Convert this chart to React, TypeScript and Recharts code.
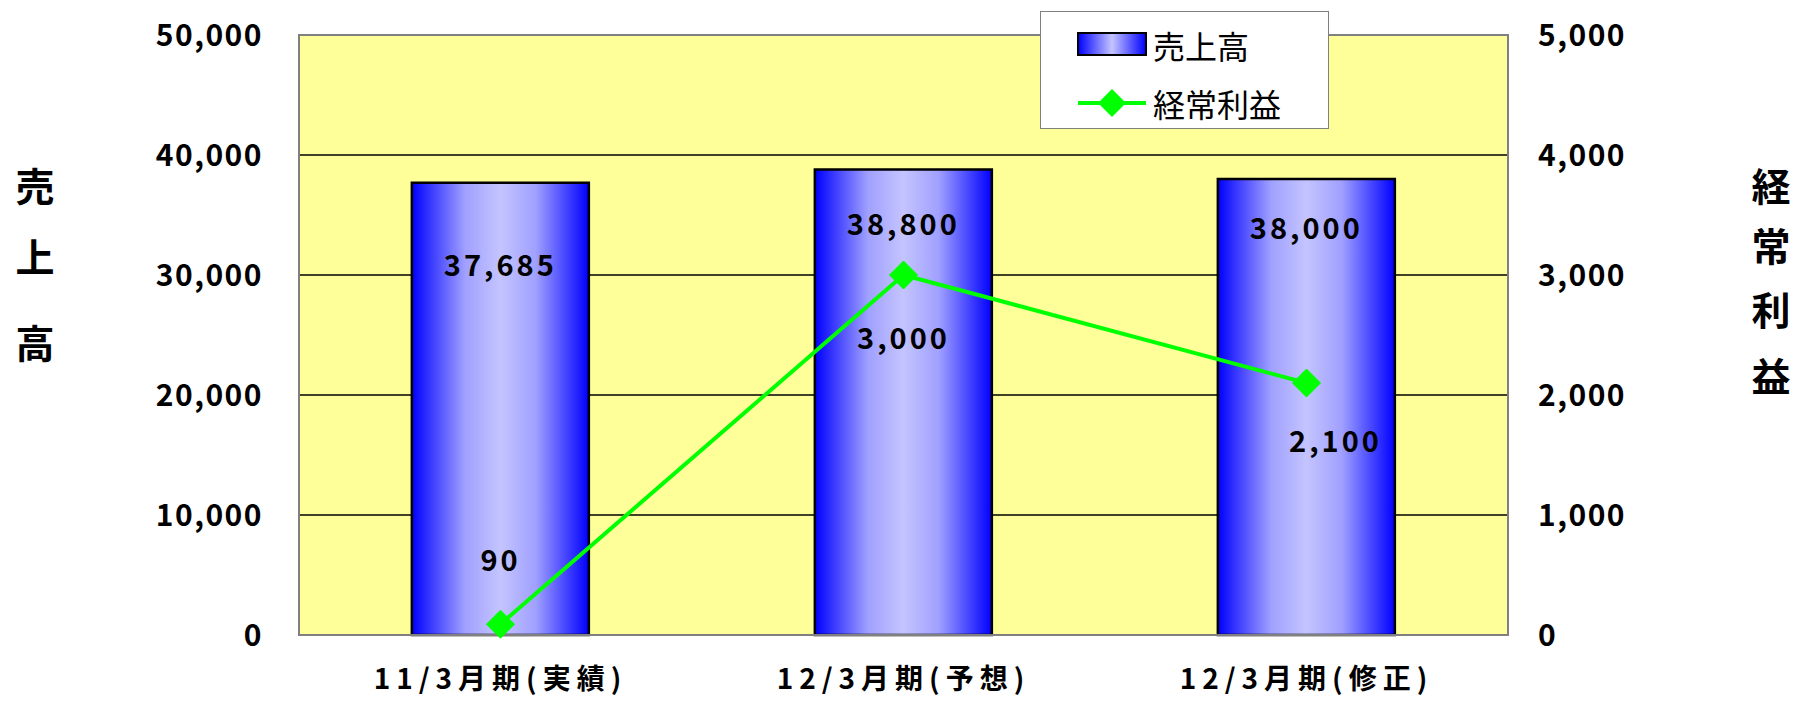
import {
  Bar,
  CartesianGrid,
  ComposedChart,
  LabelList,
  Line,
  ReferenceArea,
  XAxis,
  YAxis,
} from "recharts";

const categories = ["11/3月期(実績)", "12/3月期(予想)", "12/3月期(修正)"];
const sales = [37685, 38800, 38000];
const ordinaryProfit = [90, 3000, 2100];
const salesTicks = [0, 10000, 20000, 30000, 40000, 50000];
const profitTicks = [0, 1000, 2000, 3000, 4000, 5000];

// label nudges per point (styling only)
const barLabelDy = [80, 53, 47];
const lineLabelDy = [-66, 61, 56];
const lineLabelDx = [0, 0, 29];

const data = categories.map((name, i) => ({
  name,
  sales: sales[i],
  profit: ordinaryProfit[i],
}));

const FONT = '"Noto Sans CJK JP", "Noto Sans", sans-serif';
const fmt = (v: number) => v.toLocaleString("en-US");

const tickStyle = {
  fill: "#000",
  fontSize: 30,
  fontWeight: 700,
  fontFamily: FONT,
  letterSpacing: 1.5,
};

function BarValue(props: any) {
  const { x, y, width, value, index } = props;
  return (
    <text
      x={x + width / 2}
      y={y + barLabelDy[index]}
      textAnchor="middle"
      dominantBaseline="central"
      fontSize={29}
      fontWeight={700}
      fontFamily={FONT}
      letterSpacing={3}
      fill="#000"
    >
      {fmt(value)}
    </text>
  );
}

function LineValue(props: any) {
  const { x, y, value, index } = props;
  return (
    <text
      x={x + lineLabelDx[index]}
      y={y + lineLabelDy[index]}
      textAnchor="middle"
      dominantBaseline="central"
      fontSize={29}
      fontWeight={700}
      fontFamily={FONT}
      letterSpacing={3}
      fill="#000"
    >
      {fmt(value)}
    </text>
  );
}

function Diamond(props: any) {
  const { cx, cy } = props;
  if (cx == null || cy == null) return null;
  const r = 14;
  return (
    <polygon
      points={`${cx},${cy - r} ${cx + r},${cy} ${cx},${cy + r} ${cx - r},${cy}`}
      fill="#00FF00"
      stroke="#00FF00"
    />
  );
}

const titleChar = (ch: string, left: number, top: number) => (
  <div
    key={ch + top}
    style={{
      position: "absolute",
      left: left - 25,
      top: top - 25,
      width: 50,
      height: 50,
      lineHeight: "50px",
      textAlign: "center",
      fontFamily: FONT,
      fontWeight: 700,
      fontSize: 39,
      color: "#000",
    }}
  >
    {ch}
  </div>
);

export default function App() {
  return (
    <div
      style={{
        position: "absolute",
        left: 0,
        top: 0,
        width: 1802,
        height: 701,
        background: "#fff",
      }}
    >
      <ComposedChart
        width={1802}
        height={701}
        data={data}
        margin={{ top: 35, right: 0, bottom: 0, left: 0 }}
        barCategoryGap="28%"
      >
        <defs>
          <linearGradient id="barGrad" x1="0" y1="0" x2="1" y2="0">
            <stop offset="0%" stopColor="#0000FF" />
            <stop offset="30%" stopColor="#A0A0FF" />
            <stop offset="50%" stopColor="#C4C4FF" />
            <stop offset="70%" stopColor="#A0A0FF" />
            <stop offset="100%" stopColor="#0000FF" />
          </linearGradient>
        </defs>
        <CartesianGrid
          vertical={false}
          stroke="#000"
          strokeWidth={1.5}
          fill="#FFFF99"
          fillOpacity={1}
          yAxisId="left"
        />
        <XAxis
          dataKey="name"
          tickLine={false}
          tickSize={0}
          tickMargin={34}
          height={66}
          axisLine={{ stroke: "#808080", strokeWidth: 2 }}
          tick={{ ...tickStyle, fontSize: 28, letterSpacing: 6 }}
        />
        <YAxis
          yAxisId="left"
          domain={[0, 50000]}
          ticks={salesTicks}
          tickFormatter={fmt}
          width={299}
          tickLine={false}
          tickSize={0}
          tickMargin={36}
          axisLine={{ stroke: "#808080", strokeWidth: 2 }}
          tick={tickStyle}
        />
        <YAxis
          yAxisId="right"
          orientation="right"
          domain={[0, 5000]}
          ticks={profitTicks}
          tickFormatter={fmt}
          width={294}
          tickLine={false}
          tickSize={0}
          tickMargin={30}
          axisLine={{ stroke: "#808080", strokeWidth: 2 }}
          tick={{ ...tickStyle, textAnchor: "start" }}
        />
        <ReferenceArea
          yAxisId="left"
          y1={0}
          y2={50000}
          fill="none"
          stroke="#808080"
          strokeWidth={2}
        />
        <Bar
          yAxisId="left"
          dataKey="sales"
          fill="url(#barGrad)"
          stroke="#000"
          strokeWidth={2.5}
          isAnimationActive={false}
        >
          <LabelList dataKey="sales" content={<BarValue />} />
        </Bar>
        <Line
          yAxisId="right"
          dataKey="profit"
          stroke="#00FF00"
          strokeWidth={4}
          dot={<Diamond />}
          activeDot={false}
          isAnimationActive={false}
        >
          <LabelList dataKey="profit" content={<LineValue />} />
        </Line>
      </ComposedChart>

      {/* legend */}
      <div
        style={{
          position: "absolute",
          left: 1040,
          top: 11,
          width: 289,
          height: 118,
          background: "#fff",
          border: "1.5px solid #808080",
          boxSizing: "border-box",
        }}
      >
        <svg width={289} height={118} style={{ position: "absolute", left: 0, top: 0 }}>
          <defs>
            <linearGradient id="legGrad" x1="0" y1="0" x2="1" y2="0">
              <stop offset="0%" stopColor="#0000FF" />
              <stop offset="50%" stopColor="#C4C4FF" />
              <stop offset="100%" stopColor="#0000FF" />
            </linearGradient>
          </defs>
          <rect x={37} y={21} width={68} height={22} fill="url(#legGrad)" stroke="#000" strokeWidth={2} />
          <text x={112} y={33} dominantBaseline="central" fontSize={32} fontFamily={FONT} fill="#000">
            売上高
          </text>
          <line x1={37} y1={91} x2={105} y2={91} stroke="#00FF00" strokeWidth={4} />
          <polygon points="71,77 85,91 71,105 57,91" fill="#00FF00" />
          <text x={112} y={91} dominantBaseline="central" fontSize={32} fontFamily={FONT} fill="#000">
            経常利益
          </text>
        </svg>
      </div>

      {titleChar("売", 35, 184)}
      {titleChar("上", 35, 255)}
      {titleChar("高", 35, 341)}
      {titleChar("経", 1771, 184)}
      {titleChar("常", 1771, 244)}
      {titleChar("利", 1771, 308)}
      {titleChar("益", 1771, 374)}
    </div>
  );
}
